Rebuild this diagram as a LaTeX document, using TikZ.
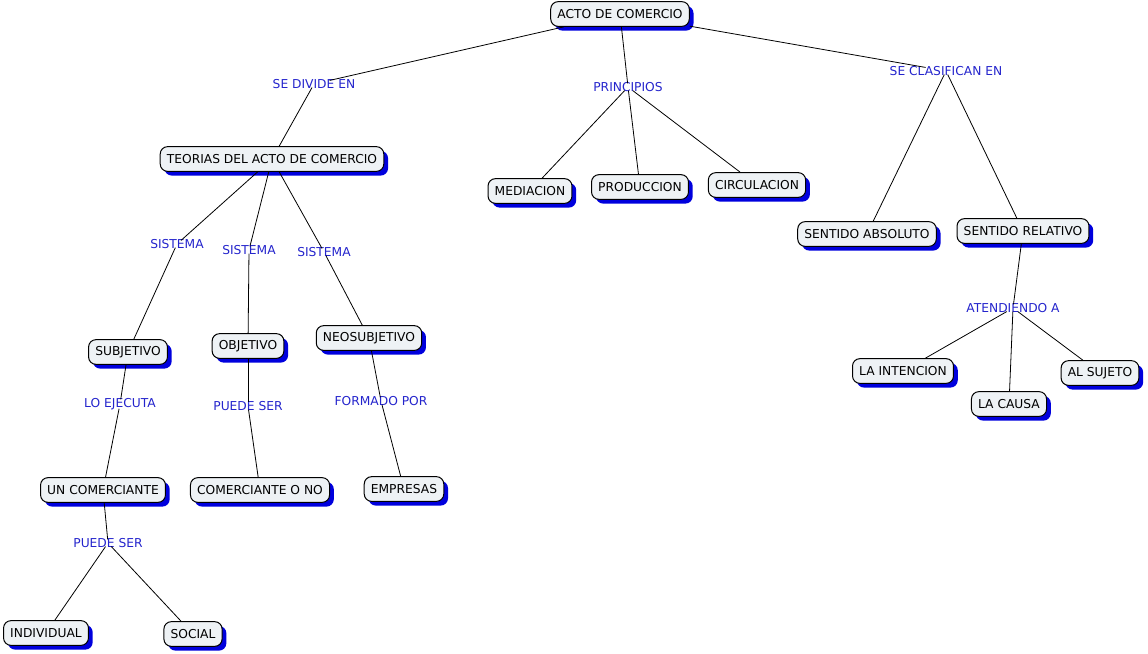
\documentclass[tikz,border=0pt]{standalone}
\usepackage{fontspec}
\setmainfont{DejaVu Sans}
\usetikzlibrary{shadows}
\definecolor{nodefill}{HTML}{EEF2F5}
\definecolor{shadowblue}{HTML}{0000DD}
\definecolor{labelblue}{HTML}{2424CC}
\begin{document}
\begin{tikzpicture}[x=0.75pt,y=-0.75pt,
  concept/.style={draw=black, line width=0.75pt, fill=nodefill, rounded corners=5.5pt,
    font=\fontsize{9.2pt}{11pt}\selectfont, inner xsep=5pt, minimum height=18.5pt,
    drop shadow={fill=shadowblue, opacity=1, shadow xshift=3.2pt, shadow yshift=-3.2pt}},
  link/.style={text=labelblue, font=\fontsize{9.2pt}{11pt}\selectfont, inner xsep=-2pt, inner ysep=-1pt},
  conn/.style={draw=black, line width=0.6pt}]
\useasboundingbox (0,0) rectangle (1148,653);
% concepts
\node[concept] (acto) at (620,14) {ACTO DE COMERCIO};
\node[concept] (teorias) at (272,159) {TEORIAS DEL ACTO DE COMERCIO};
\node[concept] (mediacion) at (530,191) {MEDIACION};
\node[concept] (produccion) at (640,187) {PRODUCCION};
\node[concept] (circulacion) at (757,185) {CIRCULACION};
\node[concept] (absoluto) at (867,234) {SENTIDO ABSOLUTO};
\node[concept] (relativo) at (1023,231) {SENTIDO RELATIVO};
\node[concept] (subjetivo) at (128,352) {SUBJETIVO};
\node[concept] (objetivo) at (248,346) {OBJETIVO};
\node[concept] (neosubjetivo) at (369,338) {NEOSUBJETIVO};
\node[concept] (intencion) at (903,371) {LA INTENCION};
\node[concept] (causa) at (1009,404) {LA CAUSA};
\node[concept] (sujeto) at (1100,373) {AL SUJETO};
\node[concept] (comerciante) at (103,490) {UN COMERCIANTE};
\node[concept] (comercianteono) at (260,490) {COMERCIANTE O NO};
\node[concept] (empresas) at (404,489) {EMPRESAS};
\node[concept] (individual) at (46,633) {INDIVIDUAL};
\node[concept] (social) at (193,634) {SOCIAL};
% link labels
\node[link] (ldivide) at (314,84) {SE DIVIDE EN};
\node[link] (lprincipios) at (628,87) {PRINCIPIOS};
\node[link] (lclasifican) at (946,71) {SE CLASIFICAN EN};
\node[link] (lsis1) at (177,244) {SISTEMA};
\node[link] (lsis2) at (249,250) {SISTEMA};
\node[link] (lsis3) at (324,252) {SISTEMA};
\node[link] (lejecuta) at (120,404) {LO EJECUTA};
\node[link] (lpuede1) at (248,406) {PUEDE SER};
\node[link] (lformado) at (381,401) {FORMADO POR};
\node[link] (lpuede2) at (108,543) {PUEDE SER};
\node[link] (latendiendo) at (1013,308) {ATENDIENDO A};
% connectors
\draw[conn] (acto) -- (ldivide);
\draw[conn] (ldivide) -- (teorias);
\draw[conn] (acto) -- (lprincipios);
\draw[conn] (lprincipios) -- (mediacion);
\draw[conn] (lprincipios) -- (produccion);
\draw[conn] (lprincipios) -- (circulacion);
\draw[conn] (acto) -- (lclasifican);
\draw[conn] (lclasifican) -- (absoluto);
\draw[conn] (lclasifican) -- (relativo);
\draw[conn] (teorias) -- (lsis1);
\draw[conn] (teorias) -- (lsis2);
\draw[conn] (teorias) -- (lsis3);
\draw[conn] (lsis1) -- (subjetivo);
\draw[conn] (lsis2) -- (objetivo);
\draw[conn] (lsis3) -- (neosubjetivo);
\draw[conn] (subjetivo) -- (lejecuta);
\draw[conn] (lejecuta) -- (comerciante);
\draw[conn] (objetivo) -- (lpuede1);
\draw[conn] (lpuede1) -- (comercianteono);
\draw[conn] (neosubjetivo) -- (lformado);
\draw[conn] (lformado) -- (empresas);
\draw[conn] (comerciante) -- (lpuede2);
\draw[conn] (lpuede2) -- (individual);
\draw[conn] (lpuede2) -- (social);
\draw[conn] (relativo) -- (latendiendo);
\draw[conn] (latendiendo) -- (intencion);
\draw[conn] (latendiendo) -- (causa);
\draw[conn] (latendiendo) -- (sujeto);
\end{tikzpicture}
\end{document}
